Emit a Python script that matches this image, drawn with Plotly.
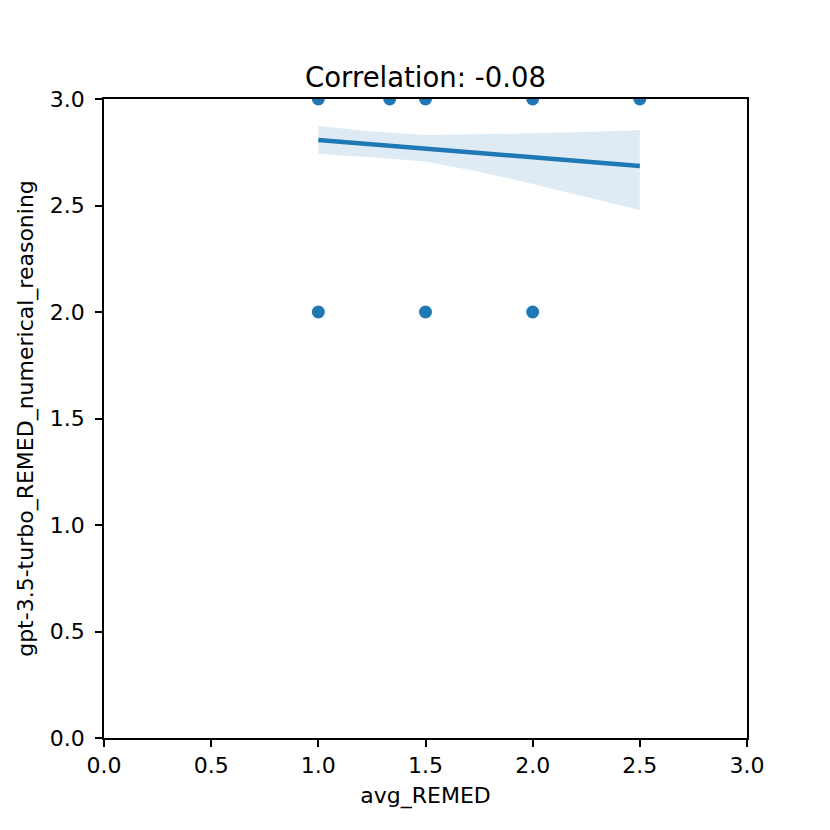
import plotly.graph_objects as go

# scatter points (avg_REMED vs gpt-3.5-turbo score)
avg_remed = [1.0, 1.333, 1.5, 2.0, 2.5, 1.0, 1.5, 2.0]
gpt_score = [3.0, 3.0, 3.0, 3.0, 3.0, 2.0, 2.0, 2.0]

# regression line and confidence band
fit_x = [1.0, 2.5]
fit_y = [2.808, 2.685]
band_x = [1.0, 1.25, 1.5, 1.75, 2.0, 2.25, 2.5]
band_upper = [2.873, 2.847, 2.831, 2.834, 2.839, 2.845, 2.854]
band_lower = [2.742, 2.726, 2.706, 2.659, 2.601, 2.541, 2.479]

tick_vals = [0.0, 0.5, 1.0, 1.5, 2.0, 2.5, 3.0]
tick_text = ["0.0", "0.5", "1.0", "1.5", "2.0", "2.5", "3.0"]

blue = "#1f77b4"
font = "DejaVu Sans"

fig = go.Figure()

fig.add_trace(go.Scatter(
    x=band_x + band_x[::-1],
    y=band_upper + band_lower[::-1],
    fill="toself",
    fillcolor="rgba(31,119,180,0.15)",
    line=dict(width=0),
    mode="lines",
    hoverinfo="skip",
    showlegend=False,
))

fig.add_trace(go.Scatter(
    x=avg_remed,
    y=gpt_score,
    mode="markers",
    marker=dict(color=blue, size=13),
    showlegend=False,
))

fig.add_trace(go.Scatter(
    x=fit_x,
    y=fit_y,
    mode="lines",
    line=dict(color=blue, width=4.5),
    showlegend=False,
))

axis_style = dict(
    range=[0, 3],
    tickvals=tick_vals,
    ticktext=tick_text,
    ticks="outside",
    ticklen=7,
    tickwidth=1.6,
    tickcolor="black",
    showline=True,
    linecolor="black",
    linewidth=1.6,
    mirror=True,
    showgrid=False,
    zeroline=False,
    tickfont=dict(family=font, size=22, color="black"),
)

# page body has an 8px margin, so the figure is a bit smaller and shifted
fig.update_layout(
    width=822,
    height=822,
    plot_bgcolor="white",
    paper_bgcolor="white",
    margin=dict(l=96, r=83, t=91, b=92),
    title=dict(
        text="Correlation: -0.08",
        x=0.5,
        xanchor="center",
        xref="paper",
        y=1 - 69 / 822,
        yanchor="middle",
        font=dict(family=font, size=27.5, color="black"),
    ),
    xaxis=dict(axis_style, ticklabelstandoff=0,
               title=dict(text="avg_REMED", standoff=10,
                          font=dict(family=font, size=22, color="black"))),
    yaxis=dict(axis_style, ticklabelstandoff=6,
               title=dict(text="gpt-3.5-turbo_REMED_numerical_reasoning", standoff=10,
                          font=dict(family=font, size=22, color="black"))),
)

fig.write_html("out.html")
